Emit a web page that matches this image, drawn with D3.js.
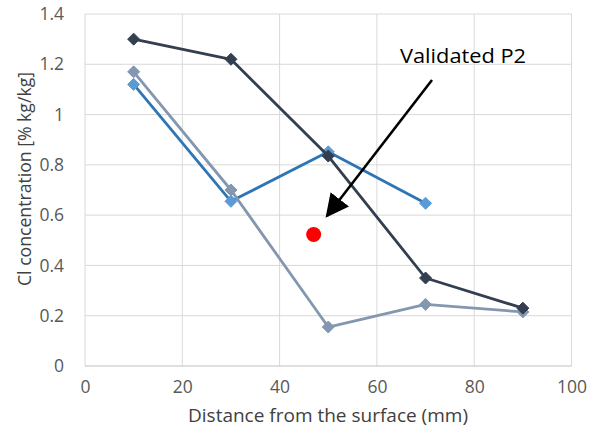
<!DOCTYPE html>
<html lang="en">
<head>
  <meta charset="UTF-8">
  <title>Cl concentration profile</title>
  <script src="https://d3js.org/d3.v7.min.js"></script>
  <style>
    body { margin: 0; background: #fff; }
    svg { display: block; font-family: "Open Sans", "Noto Sans", sans-serif; }
    .grid line { stroke: #d9d9d9; stroke-width: 1; }
    .tick text { fill: #595959; font-size: 17.5px; }
  </style>
</head>
<body>
  <svg width="592" height="439"></svg>
  <script>
    const depth = [10, 30, 50, 70, 90];
    const darkSeries = [1.30, 1.22, 0.835, 0.35, 0.23];
    const blueSeries = [1.12, 0.655, 0.852, 0.647];
    const graySeries = [1.17, 0.70, 0.155, 0.245, 0.215];
    const validated = [{ x: 47, y: 0.523 }];
    const xTicks = [0, 20, 40, 60, 80, 100];
    const yTicks = [0, 0.2, 0.4, 0.6, 0.8, 1, 1.2, 1.4];

    const svg = d3.select("svg");
    const margin = { left: 85, right: 20, top: 14, bottom: 73 };

    const x = d3.scaleLinear().domain([0, 100]).range([margin.left, 571.5]);
    const y = d3.scaleLinear().domain([0, 1.4]).range([366, margin.top]);

    // gridlines
    const grid = svg.append("g").attr("class", "grid");
    grid.selectAll(".v").data(xTicks).join("line")
      .attr("x1", d => x(d)).attr("x2", d => x(d))
      .attr("y1", y(0)).attr("y2", y(1.4));
    grid.selectAll(".h").data(yTicks.slice(1)).join("line")
      .attr("x1", x(0)).attr("x2", x(100))
      .attr("y1", d => y(d)).attr("y2", d => y(d));
    svg.append("line")
      .attr("x1", x(0)).attr("x2", x(100))
      .attr("y1", y(0)).attr("y2", y(0))
      .attr("stroke", "#bfbfbf").attr("stroke-width", 1.2);

    // axes (labels only)
    svg.append("g")
      .attr("transform", `translate(0,${y(0) + 12})`)
      .call(d3.axisBottom(x).tickValues(xTicks).tickSize(0).tickFormat(d3.format("d")))
      .call(g => g.select(".domain").remove());
    svg.append("g")
      .attr("transform", `translate(${x(0) - 18},0)`)
      .call(d3.axisLeft(y).tickValues(yTicks).tickSize(0).tickFormat(d => d === 0 || d === 1 ? d : d.toFixed(1)))
      .call(g => g.select(".domain").remove());
    svg.selectAll(".tick text").attr("font-family", "'Open Sans', sans-serif");

    // titles
    svg.append("text")
      .attr("x", 328).attr("y", 422)
      .attr("text-anchor", "middle")
      .attr("fill", "#404040").attr("font-size", 18.5)
      .attr("textLength", 280).attr("lengthAdjust", "spacingAndGlyphs")
      .text("Distance from the surface (mm)");
    svg.append("text")
      .attr("transform", "translate(31,179) rotate(-90)")
      .attr("text-anchor", "middle")
      .attr("fill", "#404040").attr("font-size", 18)
      .attr("textLength", 214).attr("lengthAdjust", "spacingAndGlyphs")
      .text("Cl concentration [% kg/kg]");

    const line = d3.line().x(d => x(d[0])).y(d => y(d[1]));
    const r = 6;
    const diamond = `M0,${-r}L${r},0L0,${r}L${-r},0Z`;

    function drawSeries(vals, lineColor, markerColor) {
      const pts = vals.map((v, i) => [depth[i], v]);
      svg.append("path")
        .attr("d", line(pts))
        .attr("fill", "none")
        .attr("stroke", lineColor)
        .attr("stroke-width", 2.8)
        .attr("stroke-linejoin", "round");
      svg.append("g").selectAll("path").data(pts).join("path")
        .attr("d", diamond)
        .attr("transform", d => `translate(${x(d[0])},${y(d[1])})`)
        .attr("fill", markerColor)
        .attr("stroke", markerColor);
    }

    drawSeries(blueSeries, "#2e75b6", "#5b9bd5");
    drawSeries(graySeries, "#8497b0", "#8497b0");
    drawSeries(darkSeries, "#333f50", "#333f50");

    svg.append("g").selectAll("circle").data(validated).join("circle")
      .attr("cx", d => x(d.x)).attr("cy", d => y(d.y))
      .attr("r", 7.5).attr("fill", "#ff0000");

    // annotation arrow
    const defs = svg.append("defs");
    defs.append("marker")
      .attr("id", "arrow")
      .attr("viewBox", "0 0 10 10")
      .attr("refX", 9).attr("refY", 5)
      .attr("markerWidth", 9).attr("markerHeight", 9)
      .attr("markerUnits", "strokeWidth")
      .attr("orient", "auto")
      .append("path").attr("d", "M0,0 L10,5 L0,10 Z").attr("fill", "#000");
    svg.append("line")
      .attr("x1", 432).attr("y1", 80)
      .attr("x2", 327).attr("y2", 216)
      .attr("stroke", "#000").attr("stroke-width", 2.6)
      .attr("marker-end", "url(#arrow)");
    svg.append("text")
      .attr("x", 400).attr("y", 63)
      .attr("fill", "#000").attr("font-size", 20)
      .attr("textLength", 126).attr("lengthAdjust", "spacingAndGlyphs")
      .text("Validated P2");
  </script>
</body>
</html>
